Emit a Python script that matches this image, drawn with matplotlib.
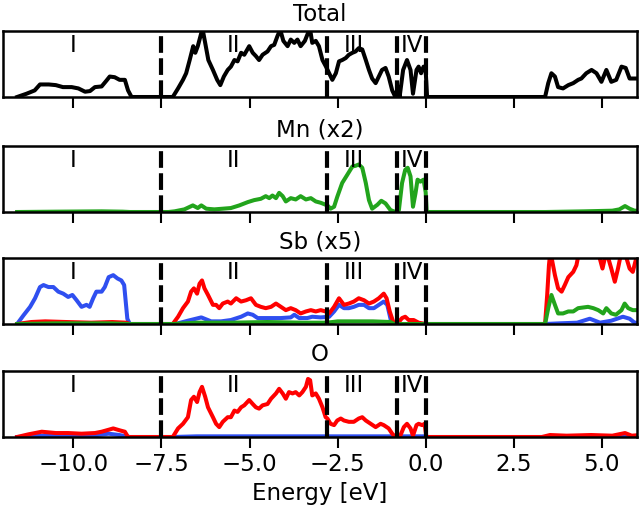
import matplotlib
matplotlib.use("Agg")
import matplotlib.pyplot as plt

# Density of states (energy in eV, value scaled to panel height)
total_dos = [(-11.6, 0.0), (-11.33, 0.05), (-11.1, 0.10), (-10.95, 0.19), (-10.7, 0.19), (-10.5, 0.18),
             (-10.3, 0.15), (-10.05, 0.15), (-9.86, 0.13), (-9.67, 0.08), (-9.53, 0.09), (-9.39, 0.15),
             (-9.2, 0.16), (-9.06, 0.25), (-8.97, 0.31), (-8.83, 0.30), (-8.69, 0.26), (-8.54, 0.26),
             (-8.45, 0.10), (-8.35, 0.0), (-7.18, 0.0), (-7.03, 0.13), (-6.89, 0.26), (-6.8, 0.36),
             (-6.7, 0.56), (-6.6, 0.77), (-6.54, 0.67), (-6.47, 0.77), (-6.37, 0.97), (-6.33, 1.02),
             (-6.26, 0.82), (-6.17, 0.56), (-6.04, 0.41), (-5.92, 0.26), (-5.83, 0.18), (-5.73, 0.31),
             (-5.62, 0.41), (-5.53, 0.46), (-5.43, 0.56), (-5.34, 0.54), (-5.24, 0.67), (-5.15, 0.64),
             (-5.01, 0.77), (-4.91, 0.67), (-4.82, 0.62), (-4.73, 0.56), (-4.63, 0.64), (-4.49, 0.69),
             (-4.39, 0.77), (-4.3, 0.79), (-4.21, 0.92), (-4.13, 1.02), (-4.04, 0.85), (-3.92, 0.77),
             (-3.83, 0.87), (-3.73, 0.82), (-3.64, 0.87), (-3.55, 0.77), (-3.43, 0.85), (-3.34, 0.97),
             (-3.28, 1.02), (-3.22, 0.82), (-3.12, 0.85), (-3.03, 0.77), (-2.93, 0.56), (-2.83, 0.46),
             (-2.74, 0.36), (-2.65, 0.26), (-2.55, 0.36), (-2.46, 0.54), (-2.37, 0.56), (-2.27, 0.59),
             (-2.18, 0.64), (-2.08, 0.67), (-1.99, 0.69), (-1.9, 0.74), (-1.8, 0.72), (-1.7, 0.56),
             (-1.61, 0.41), (-1.52, 0.28), (-1.42, 0.21), (-1.33, 0.31), (-1.24, 0.41), (-1.14, 0.44),
             (-1.05, 0.31), (-0.95, 0.10), (-0.86, 0.0), (-0.79, 0.15), (-0.74, 0.0), (-0.64, 0.41),
             (-0.53, 0.56), (-0.43, 0.41), (-0.36, 0.05), (-0.26, 0.41), (-0.2, 0.46), (-0.13, 0.36),
             (-0.06, 0.46), (0.0, 0.41), (0.04, 0.0), (3.39, 0.0), (3.48, 0.21), (3.57, 0.36),
             (3.67, 0.31), (3.76, 0.15), (3.9, 0.13), (4.05, 0.18), (4.19, 0.21), (4.33, 0.26),
             (4.42, 0.28), (4.56, 0.36), (4.71, 0.41), (4.85, 0.36), (4.99, 0.23), (5.13, 0.41),
             (5.27, 0.23), (5.41, 0.26), (5.56, 0.46), (5.68, 0.44), (5.79, 0.28), (5.93, 0.28),
             (6.1, 0.28)]

mn_dos = [(-11.6, 0.0), (-10.5, 0.005), (-9.2, 0.01), (-8.6, 0.005), (-8.4, 0.0), (-7.3, 0.0),
          (-7.13, 0.01), (-6.85, 0.04), (-6.61, 0.10), (-6.47, 0.06), (-6.37, 0.10), (-6.23, 0.05),
          (-6.0, 0.04), (-5.76, 0.05), (-5.53, 0.06), (-5.29, 0.10), (-5.05, 0.15), (-4.87, 0.18),
          (-4.68, 0.20), (-4.54, 0.24), (-4.44, 0.21), (-4.35, 0.25), (-4.25, 0.21), (-4.16, 0.29),
          (-4.06, 0.24), (-3.97, 0.16), (-3.83, 0.21), (-3.69, 0.19), (-3.55, 0.24), (-3.4, 0.19),
          (-3.26, 0.21), (-3.12, 0.16), (-2.98, 0.14), (-2.84, 0.11), (-2.79, 0.10), (-2.7, 0.05),
          (-2.6, 0.08), (-2.51, 0.23), (-2.37, 0.44), (-2.23, 0.56), (-2.08, 0.69), (-1.99, 0.70),
          (-1.9, 0.72), (-1.8, 0.67), (-1.7, 0.44), (-1.61, 0.18), (-1.52, 0.05), (-1.37, 0.11),
          (-1.26, 0.17), (-1.14, 0.13), (-1.0, 0.03), (-0.86, 0.0), (-0.76, 0.03), (-0.67, 0.44),
          (-0.58, 0.64), (-0.51, 0.67), (-0.43, 0.54), (-0.36, 0.08), (-0.29, 0.28), (-0.23, 0.49),
          (-0.15, 0.46), (-0.06, 0.49), (0.0, 0.3), (0.03, 0.0), (3.4, 0.0), (4.5, 0.01),
          (5.3, 0.02), (5.5, 0.04), (5.66, 0.09), (5.79, 0.05), (5.93, 0.02), (6.1, 0.02)]

sb_blue = [(-11.6, 0.0), (-11.42, 0.13), (-11.23, 0.26), (-11.09, 0.39), (-10.95, 0.56), (-10.85, 0.59),
           (-10.71, 0.56), (-10.57, 0.56), (-10.43, 0.49), (-10.29, 0.46), (-10.15, 0.41), (-10.03, 0.44),
           (-9.91, 0.36), (-9.77, 0.26), (-9.63, 0.29), (-9.54, 0.26), (-9.44, 0.39), (-9.35, 0.49),
           (-9.2, 0.49), (-9.11, 0.56), (-9.0, 0.71), (-8.87, 0.74), (-8.75, 0.69), (-8.64, 0.66),
           (-8.56, 0.59), (-8.47, 0.08), (-8.4, 0.0), (-7.1, 0.0), (-6.75, 0.05), (-6.37, 0.10),
           (-6.09, 0.04), (-5.81, 0.04), (-5.53, 0.06), (-5.24, 0.11), (-5.05, 0.16), (-4.91, 0.14),
           (-4.77, 0.09), (-4.49, 0.09), (-4.11, 0.09), (-3.83, 0.10), (-3.73, 0.14), (-3.59, 0.09),
           (-3.36, 0.09), (-3.22, 0.11), (-2.98, 0.10), (-2.74, 0.11), (-2.6, 0.19), (-2.46, 0.29),
           (-2.32, 0.24), (-2.18, 0.24), (-2.04, 0.26), (-1.9, 0.29), (-1.75, 0.29), (-1.61, 0.24),
           (-1.47, 0.24), (-1.33, 0.29), (-1.19, 0.34), (-1.09, 0.29), (-0.99, 0.06), (-0.9, 0.0),
           (3.4, 0.0), (3.8, 0.01), (4.3, 0.02), (4.66, 0.08), (4.95, 0.02), (5.27, 0.05),
           (5.6, 0.11), (5.79, 0.08), (5.93, 0.02), (6.1, 0.02)]

sb_red = [(-11.6, 0.0), (-11.2, 0.03), (-10.8, 0.04), (-10.2, 0.03), (-9.5, 0.02), (-8.9, 0.03),
          (-8.5, 0.02), (-8.4, 0.0), (-7.18, 0.0), (-7.03, 0.11), (-6.89, 0.24), (-6.75, 0.34),
          (-6.66, 0.49), (-6.58, 0.54), (-6.49, 0.46), (-6.42, 0.61), (-6.35, 0.66), (-6.28, 0.54),
          (-6.18, 0.44), (-6.04, 0.29), (-5.95, 0.29), (-5.86, 0.24), (-5.76, 0.31), (-5.62, 0.34),
          (-5.53, 0.31), (-5.38, 0.39), (-5.24, 0.34), (-5.1, 0.36), (-4.96, 0.39), (-4.82, 0.29),
          (-4.68, 0.26), (-4.54, 0.24), (-4.39, 0.26), (-4.25, 0.31), (-4.11, 0.26), (-3.97, 0.21),
          (-3.83, 0.24), (-3.69, 0.21), (-3.55, 0.16), (-3.4, 0.19), (-3.26, 0.21), (-3.12, 0.19),
          (-2.98, 0.21), (-2.84, 0.19), (-2.74, 0.16), (-2.6, 0.26), (-2.46, 0.39), (-2.32, 0.29),
          (-2.18, 0.31), (-2.04, 0.34), (-1.9, 0.39), (-1.75, 0.36), (-1.61, 0.31), (-1.47, 0.34),
          (-1.33, 0.39), (-1.19, 0.46), (-1.11, 0.39), (-1.02, 0.19), (-0.92, 0.03), (-0.81, 0.0),
          (-0.67, 0.09), (-0.58, 0.11), (-0.48, 0.06), (-0.34, 0.06), (-0.2, 0.02), (0.0, 0.0),
          (3.39, 0.0), (3.45, 0.44), (3.5, 0.89), (3.54, 1.1), (3.67, 0.74), (3.76, 0.54),
          (3.86, 0.49), (3.95, 0.59), (4.05, 0.71), (4.19, 0.79), (4.28, 0.89), (4.36, 1.1),
          (4.6, 1.3), (4.85, 1.2), (4.94, 1.0), (5.02, 0.84), (5.13, 1.1), (5.27, 0.84),
          (5.37, 0.64), (5.46, 0.84), (5.56, 1.1), (5.7, 1.0), (5.79, 0.84), (5.88, 0.79),
          (5.98, 1.0), (6.1, 1.1)]

sb_green = [(-11.6, 0.0), (-10.5, 0.01), (-9.0, 0.01), (-8.4, 0.0), (-7.2, 0.0), (-6.5, 0.02),
            (-5.5, 0.02), (-4.5, 0.03), (-3.5, 0.02), (-2.8, 0.02), (-2.5, 0.04), (-1.5, 0.04),
            (-1.0, 0.03), (-0.9, 0.0), (3.39, 0.0), (3.48, 0.24), (3.57, 0.44), (3.67, 0.29),
            (3.76, 0.16), (3.9, 0.16), (4.05, 0.19), (4.19, 0.19), (4.33, 0.24), (4.47, 0.25),
            (4.61, 0.26), (4.76, 0.24), (4.9, 0.21), (5.04, 0.16), (5.13, 0.24), (5.27, 0.16),
            (5.4, 0.14), (5.56, 0.21), (5.65, 0.31), (5.75, 0.24), (5.88, 0.21), (6.1, 0.21)]

o_red = [(-11.6, 0.0), (-11.28, 0.04), (-10.9, 0.08), (-10.5, 0.06), (-10.15, 0.06), (-9.77, 0.05),
         (-9.39, 0.06), (-9.2, 0.08), (-9.0, 0.11), (-8.87, 0.13), (-8.68, 0.10), (-8.54, 0.08),
         (-8.45, 0.0), (-7.18, 0.0), (-7.03, 0.13), (-6.89, 0.20), (-6.75, 0.30), (-6.66, 0.56),
         (-6.58, 0.61), (-6.49, 0.53), (-6.42, 0.68), (-6.35, 0.76), (-6.26, 0.61), (-6.18, 0.45),
         (-6.04, 0.30), (-5.95, 0.20), (-5.86, 0.15), (-5.76, 0.23), (-5.62, 0.30), (-5.53, 0.30),
         (-5.43, 0.40), (-5.34, 0.38), (-5.24, 0.45), (-5.15, 0.48), (-5.01, 0.56), (-4.91, 0.50),
         (-4.82, 0.45), (-4.73, 0.43), (-4.63, 0.48), (-4.49, 0.50), (-4.39, 0.58), (-4.25, 0.66),
         (-4.16, 0.73), (-4.06, 0.66), (-3.97, 0.58), (-3.88, 0.68), (-3.78, 0.66), (-3.69, 0.68),
         (-3.59, 0.63), (-3.5, 0.68), (-3.4, 0.76), (-3.34, 0.88), (-3.28, 0.86), (-3.22, 0.63),
         (-3.12, 0.66), (-3.03, 0.58), (-2.93, 0.45), (-2.84, 0.30), (-2.79, 0.28), (-2.7, 0.20),
         (-2.6, 0.18), (-2.51, 0.25), (-2.41, 0.28), (-2.32, 0.25), (-2.18, 0.23), (-2.04, 0.23),
         (-1.9, 0.28), (-1.8, 0.30), (-1.7, 0.25), (-1.56, 0.20), (-1.42, 0.15), (-1.28, 0.20),
         (-1.19, 0.18), (-1.05, 0.13), (-0.95, 0.05), (-0.86, 0.0), (-0.72, 0.02), (-0.62, 0.15),
         (-0.53, 0.20), (-0.43, 0.13), (-0.36, 0.02), (-0.26, 0.18), (-0.2, 0.20), (-0.1, 0.18),
         (-0.03, 0.20), (0.02, 0.0), (3.3, 0.0), (3.53, 0.03), (4.0, 0.02), (4.7, 0.03),
         (5.3, 0.02), (5.66, 0.06), (5.85, 0.02), (6.1, 0.03)]

o_blue = [(-11.6, 0.0), (-10.8, 0.02), (-9.5, 0.02), (-9.0, 0.05), (-8.7, 0.03), (-8.4, 0.0),
          (-7.2, 0.0), (-6.5, 0.01), (-5.0, 0.01), (0.0, 0.01), (0.05, 0.0), (6.1, 0.0)]

titles = ["Total", "Mn (x2)", "Sb (x5)", "O"]
region_labels = ["I", "II", "III", "IV"]
region_label_x = [-10.0, -5.45, -2.05, -0.38]
region_edges = [-7.5, -2.8, -0.8, 0.0]
xticks = [-10.0, -7.5, -5.0, -2.5, 0.0, 2.5, 5.0]

panels = [
    [(total_dos, "black")],
    [(mn_dos, "#22a41c")],
    [(sb_blue, "#2f4ff0"), (sb_red, "red"), (sb_green, "#22a41c")],
    [(o_blue, "#2f4ff0"), (o_red, "red")],
]

plt.rcParams["font.size"] = 16.5

W, H = 640, 509
fig = plt.figure(figsize=(W / 100, H / 100), dpi=100)

# panel top/bottom in pixels
tops = [31, 146, 258, 371]
height = 66

for i in range(4):
    ax = fig.add_axes([3 / W, 1 - (tops[i] + height) / H, 634 / W, height / H])
    for curve, color in panels[i]:
        e = [p[0] for p in curve]
        v = [p[1] for p in curve]
        ax.plot(e, v, color=color, lw=2.9, solid_joinstyle="round")
    for x in region_edges:
        ax.axvline(x, color="black", lw=3, dashes=(4, 1.3))
    for lab, x in zip(region_labels, region_label_x):
        ax.text(x, 0.78, lab, ha="center", va="center", transform=ax.get_xaxis_transform())
    ax.set_xlim(-12, 6)
    ax.set_ylim(0, 1)
    ax.set_yticks([])
    ax.set_xticks(xticks)
    ax.tick_params(axis="x", length=8, width=1.5, direction="out")
    for s in ax.spines.values():
        s.set_linewidth(1.8)
    ax.set_title(titles[i], fontsize=16.5, pad=7)
    if i < 3:
        ax.set_xticklabels([])
    else:
        ax.set_xlabel("Energy [eV]")

fig.savefig("out.png", dpi=100)
